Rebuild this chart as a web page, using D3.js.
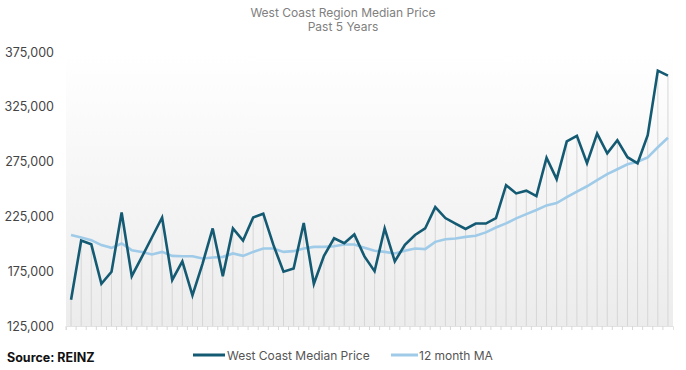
<!DOCTYPE html>
<html>
<head>
<meta charset="utf-8">
<script src="https://cdn.jsdelivr.net/npm/d3@7"></script>
<style>
  body { margin: 0; background: #fff; }
  text { font-family: Inter, "Open Sans", sans-serif; }
</style>
</head>
<body>
<div id="chart-area"></div>
<script>
// West Coast median price, monthly, past 5 years
var months = d3.range(60).map(function(i){ return "m" + i; });

var medianPrice = [
  149000, 203000, 199500, 163500, 174500, 228500, 170500, 188000, 206000, 224000,
  167000, 184000, 153000, 182000, 214000, 170500, 214000, 203000, 224000, 227500,
  199000, 174500, 177500, 219000, 163500, 189000, 205000, 200500, 208500, 188500,
  175000, 214000, 184000, 199000, 208000, 214000, 233500, 223500, 218500, 213500,
  218500, 218500, 223500, 253500, 246000, 248500, 243500, 278500, 259000, 293500,
  298500, 273500, 300500, 282500, 294500, 279000, 273500, 299000, 358000, 353500
];

var movingAvg = [
  208000, 205800, 203300, 198800, 196300, 200300, 194200, 192600, 190300, 192600,
  189000, 188700, 188700, 186600, 187500, 188100, 191200, 189000, 192600, 195700,
  195700, 192600, 193300, 195700, 197200, 197200, 197800, 199400, 199400, 196500,
  193600, 192600, 191200, 193600, 195700, 195100, 201800, 204200, 204900, 206300,
  207300, 210400, 214900, 218600, 223200, 227100, 230800, 235000, 237200, 242500,
  247700, 252500, 258000, 263500, 268000, 272500, 274900, 278900, 288100, 296800
];

var yTicks = [125000, 175000, 225000, 275000, 325000, 375000];

var margin = { left: 66, right: 13, top: 52, bottom: 44 };
var width = 686 - margin.left - margin.right;
var height = 370 - margin.top - margin.bottom;

var svg = d3.select("#chart-area")
  .append("svg")
    .attr("width", 686)
    .attr("height", 370);

var defs = svg.append("defs");
var grad = defs.append("linearGradient")
  .attr("id", "bg")
  .attr("x1", 0).attr("y1", 0).attr("x2", 0).attr("y2", 1);
grad.append("stop").attr("offset", "0%").attr("stop-color", "#ffffff");
grad.append("stop").attr("offset", "100%").attr("stop-color", "#ececec");

var g = svg.append("g")
  .attr("transform", "translate(" + margin.left + "," + margin.top + ")");

var x = d3.scaleBand()
  .domain(months)
  .range([0, width]);

var y = d3.scaleLinear()
  .domain([125000, 375000])
  .range([height, 0]);

// plot background
g.append("rect")
  .attr("x", 0)
  .attr("y", 0)
  .attr("width", width)
  .attr("height", height)
  .attr("fill", "url(#bg)");

// drop lines from each point
g.selectAll("line.drop")
  .data(medianPrice)
  .enter()
  .append("line")
    .attr("class", "drop")
    .attr("x1", function(d, i){ return x(months[i]) + x.bandwidth() / 2; })
    .attr("x2", function(d, i){ return x(months[i]) + x.bandwidth() / 2; })
    .attr("y1", function(d){ return y(d); })
    .attr("y2", height)
    .attr("stroke", "#d6d6d6")
    .attr("stroke-width", 1);

// x axis: ticks only
var xAxisCall = d3.axisBottom(x).tickSize(4).tickFormat("");
var xAxisGroup = g.append("g")
  .attr("transform", "translate(0," + height + ")")
  .call(xAxisCall);
xAxisGroup.select(".domain").attr("stroke", "#e2e2e2");
xAxisGroup.selectAll(".tick line")
  .attr("stroke", "#d8d8d8")
  .attr("transform", "translate(" + (-x.bandwidth() / 2) + ",0)");

// y axis labels
var yAxisCall = d3.axisLeft(y)
  .tickValues(yTicks)
  .tickSize(0)
  .tickPadding(12)
  .tickFormat(d3.format(","));
var yAxisGroup = g.append("g").call(yAxisCall);
yAxisGroup.select(".domain").remove();
yAxisGroup.selectAll("text")
  .attr("font-size", "12.5px")
  .attr("fill", "#444")
  .style("font-family", "Inter, 'Open Sans', sans-serif");

var cx = function(d, i){ return x(months[i]) + x.bandwidth() / 2; };

var line = d3.line()
  .x(cx)
  .y(function(d){ return y(d); });

g.append("path")
  .datum(movingAvg)
  .attr("fill", "none")
  .attr("stroke", "#9fcbe8")
  .attr("stroke-width", 2.6)
  .attr("d", line);

g.append("path")
  .datum(medianPrice)
  .attr("fill", "none")
  .attr("stroke", "#135a72")
  .attr("stroke-width", 2.6)
  .attr("stroke-linejoin", "miter")
  .attr("d", line);

// title
svg.append("text")
  .attr("x", 343)
  .attr("y", 17)
  .attr("text-anchor", "middle")
  .attr("font-size", "12px")
  .attr("fill", "#808080")
  .text("West Coast Region Median Price");
svg.append("text")
  .attr("x", 343)
  .attr("y", 31)
  .attr("text-anchor", "middle")
  .attr("font-size", "12px")
  .attr("fill", "#808080")
  .text("Past 5 Years");

// source
svg.append("text")
  .attr("x", 7)
  .attr("y", 362)
  .attr("font-size", "12.5px")
  .attr("font-weight", "bold")
  .attr("fill", "#111")
  .text("Source: REINZ");

// legend
var legendItems = [
  { name: "West Coast Median Price", color: "#135a72", x: 193 },
  { name: "12 month MA", color: "#9fcbe8", x: 391 }
];
var legend = svg.selectAll("g.legend")
  .data(legendItems)
  .enter()
  .append("g")
    .attr("class", "legend")
    .attr("transform", function(d){ return "translate(" + d.x + ",355)"; });
legend.append("line")
  .attr("x1", 0).attr("x2", function(d, i){ return i == 0 ? 32 : 27; })
  .attr("y1", 0).attr("y2", 0)
  .attr("stroke", function(d){ return d.color; })
  .attr("stroke-width", 3);
legend.append("text")
  .attr("x", function(d, i){ return i == 0 ? 34 : 28; })
  .attr("y", 4.5)
  .attr("font-size", "12px")
  .attr("fill", "#555")
  .text(function(d){ return d.name; });
</script>
</body>
</html>
